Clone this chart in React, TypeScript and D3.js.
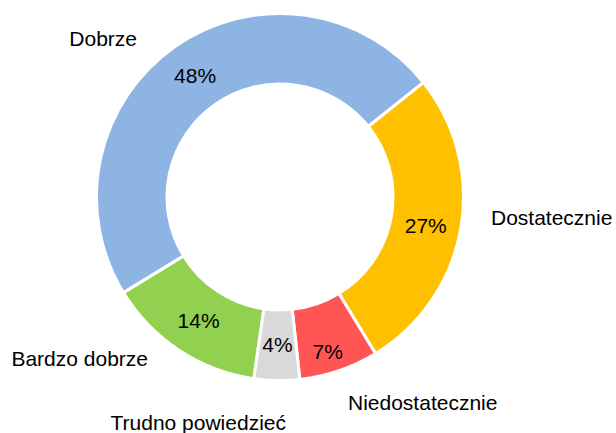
import * as d3 from 'd3';

// Dane (kolejność zgodna z ruchem wskazówek zegara)
const categories = ['Bardzo dobrze', 'Dobrze', 'Dostatecznie', 'Niedostatecznie', 'Trudno powiedzieć'];
const values = [14, 48, 27, 7, 4];
const colors = ['#92D050', '#8EB4E3', '#FFC000', '#FF5555', '#D9D9D9'];

// pozycje etykiet kategorii (tekst poza pierścieniem)
const outerLabels = [
  { x: 148, y: 366, anchor: 'end' },
  { x: 137, y: 46, anchor: 'end' },
  { x: 491, y: 225, anchor: 'start' },
  { x: 348, y: 410, anchor: 'start' },
  { x: 286, y: 430, anchor: 'end' },
];
const pctNudge = [0, 0, 3, 15, 0];

const width = 616;
const height = 433;
const cx = 280;
const cy = 197;
const outerR = 183.5;
const innerR = 113;

export default function App() {
  const start = (188.2 * Math.PI) / 180;
  const pie = d3.pie<number>().sort(null).value(d => d).startAngle(start).endAngle(start + 2 * Math.PI);
  const arcs = pie(values);
  const arc = d3.arc<d3.PieArcDatum<number>>().innerRadius(innerR).outerRadius(outerR);
  const labelArc = d3.arc<d3.PieArcDatum<number>>().innerRadius(148).outerRadius(148);
  const total = d3.sum(values);

  return (
    <div style={{ position: 'absolute', left: 0, top: 0 }}>
      <svg width={width} height={height} style={{ display: 'block', background: '#fff' }}
        fontFamily="'Liberation Sans', Arial, sans-serif">
        <g transform={`translate(${cx},${cy})`}>
          {arcs.map((a, i) => (
            <path key={i} d={arc(a) || ''} fill={colors[i]} stroke="#fff" strokeWidth={3} strokeLinejoin="miter" />
          ))}
          {arcs.map((a, i) => {
            const [x, y] = labelArc.centroid(a);
            return (
              <text key={i} x={x} y={y + pctNudge[i]} dy="0.35em" textAnchor="middle" fontSize={21} fill="#000">
                {Math.round((values[i] / total) * 100)}%
              </text>
            );
          })}
        </g>
        {categories.map((c, i) => (
          <text key={c} x={outerLabels[i].x} y={outerLabels[i].y} textAnchor={outerLabels[i].anchor}
            fontSize={21} fill="#000">
            {c}
          </text>
        ))}
      </svg>
    </div>
  );
}
